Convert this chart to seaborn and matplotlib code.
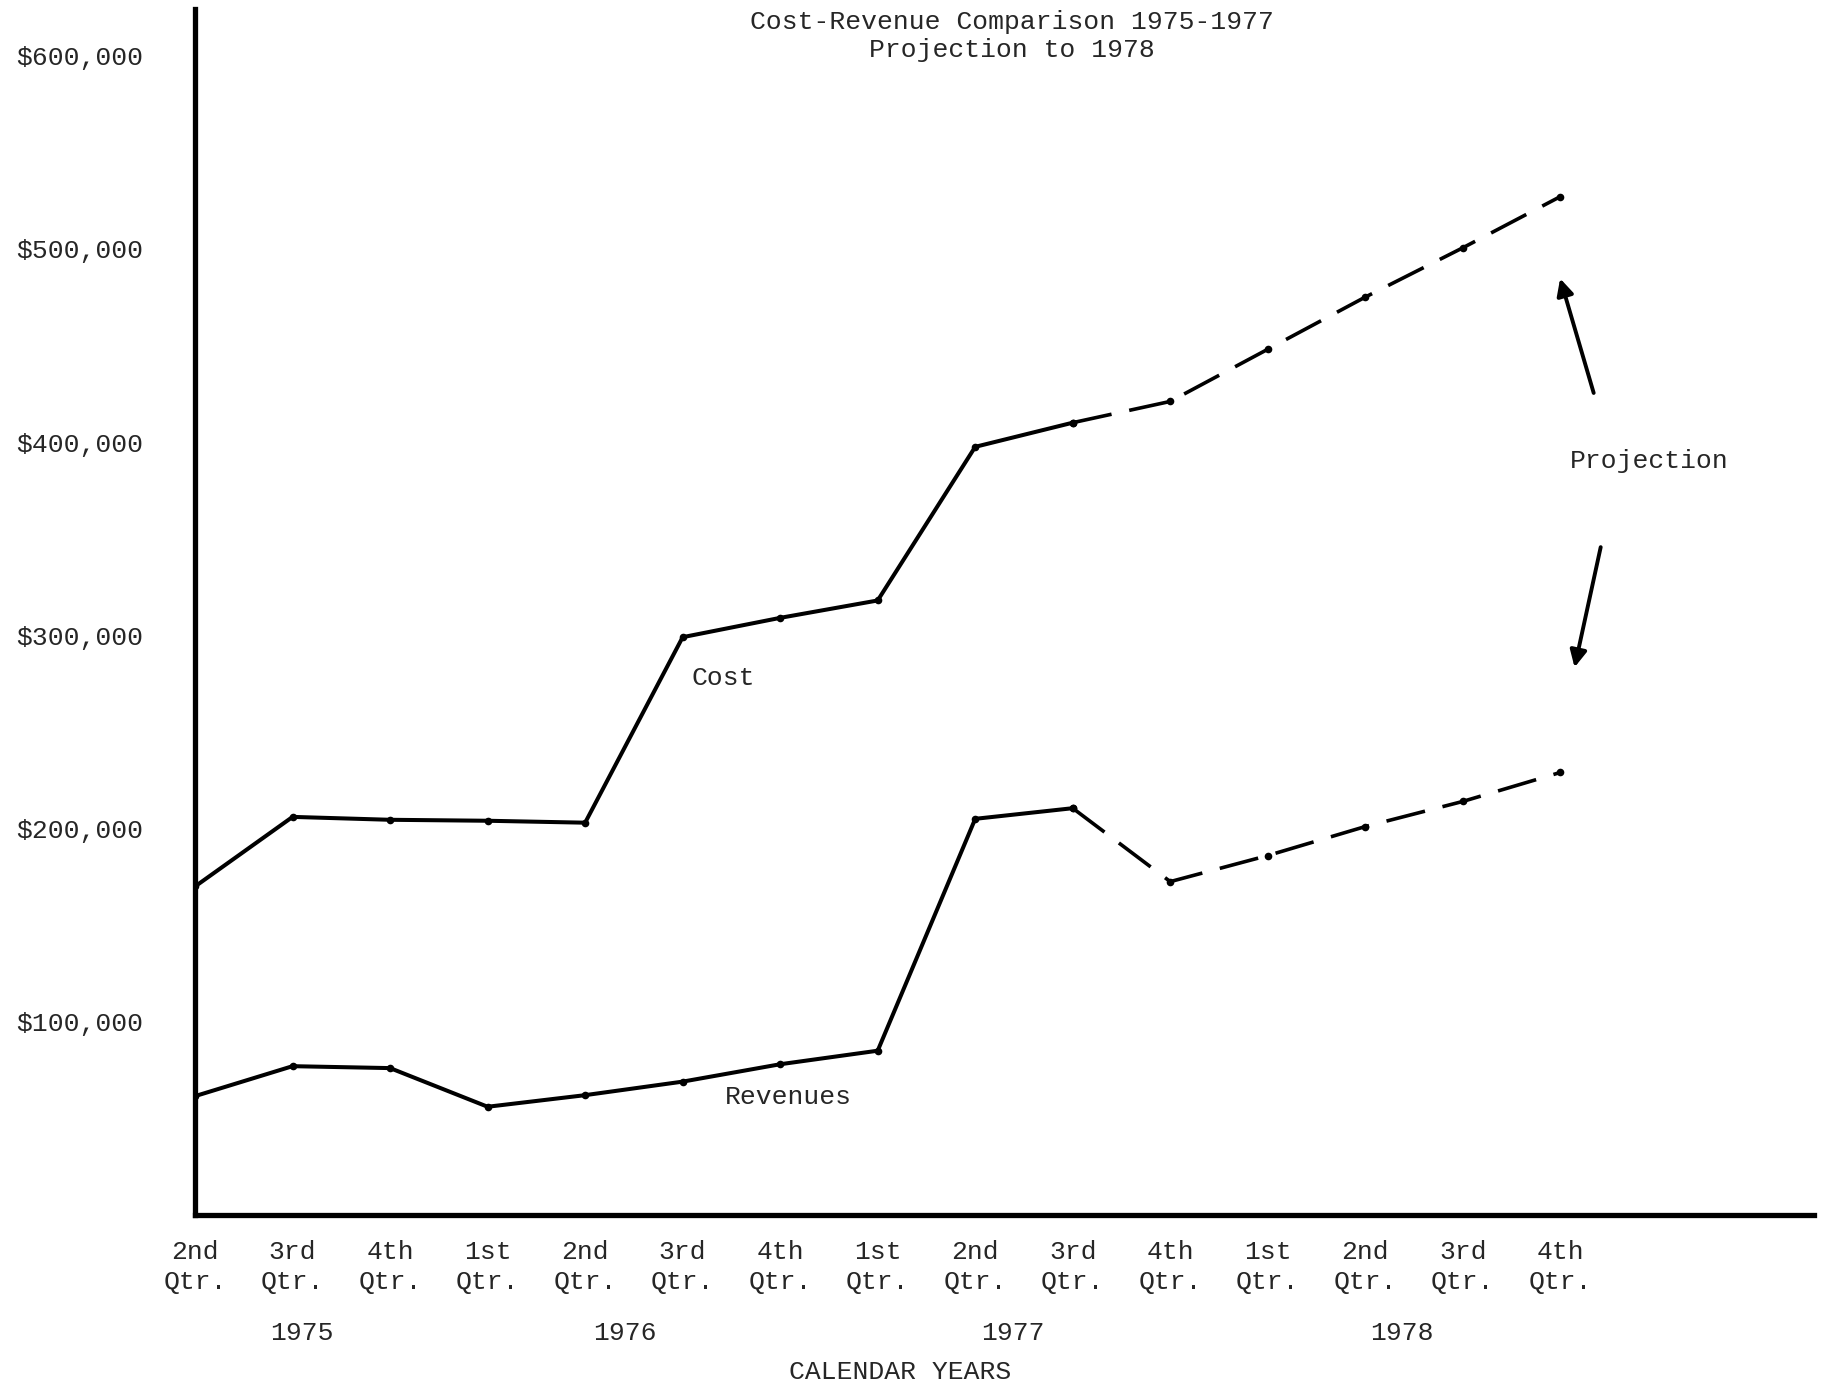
"""
Cost-revenue comparison 1975-1977 with projection to 1978 (typewriter-style line chart).
"""

import matplotlib
matplotlib.use("Agg")
import matplotlib.pyplot as plt
import matplotlib.transforms as mtransforms
import pandas as pd
import seaborn as sns

quarters = ["2nd\nQtr.", "3rd\nQtr.", "4th\nQtr.", "1st\nQtr.", "2nd\nQtr.", "3rd\nQtr.",
            "4th\nQtr.", "1st\nQtr.", "2nd\nQtr.", "3rd\nQtr.", "4th\nQtr.", "1st\nQtr.",
            "2nd\nQtr.", "3rd\nQtr.", "4th\nQtr."]
cost = [170000, 206000, 204500, 204000, 203000, 299000, 309000, 318000,
        397500, 410000, 421000, 448000, 475000, 500500, 527000]
revenue = [61500, 77000, 76000, 56000, 62000, 69000, 78000, 85000,
           205000, 210500, 172500, 186000, 201000, 214000, 229000]
actual_end = 9          # index of 3rd Qtr 1977, last actual value
years = ["1975", "1976", "1977", "1978"]
year_pos = [1.1, 4.41, 8.39, 12.38]
ytick_vals = [100000, 200000, 300000, 400000, 500000, 600000]
ytick_labels = ["$100,000", "$200,000", "$300,000", "$400,000", "$500,000", "$600,000"]

sns.set_theme(style="white")
plt.rcParams["font.family"] = ["Liberation Mono", "DejaVu Sans Mono"]

df = pd.DataFrame({"q": range(len(quarters)), "Cost": cost, "Revenues": revenue})
act = df[df["q"] <= actual_end]
proj = df[df["q"] >= actual_end]

fig = plt.figure(figsize=(18.23, 13.86), dpi=100)
ax = fig.add_axes([0.107, 0.1234, 0.888, 0.87])

for col in ["Cost", "Revenues"]:
    sns.lineplot(data=act, x="q", y=col, ax=ax, color="black", lw=2.9,
                 marker="o", markersize=5.5, markeredgewidth=0)
    sns.lineplot(data=proj, x="q", y=col, ax=ax, color="black", lw=2.6,
                 linestyle=(0, (11, 5)), marker="o", markersize=5.5, markeredgewidth=0)

ax.set_xlim(0, 16.6)
ax.set_ylim(0, 624000)
ax.set_xticks(range(len(quarters)))
ax.set_xticklabels(quarters, fontsize=19, linespacing=1.3)
ax.set_yticks(ytick_vals)
ax.set_yticklabels(ytick_labels, fontsize=19)
ax.tick_params(axis="x", direction="out", length=7, width=2, pad=11, color="black")
ax.tick_params(axis="y", direction="out", length=7, width=2, pad=30, color="black")
ax.set_xlabel(""); ax.set_ylabel("")
for s in ["top", "right"]:
    ax.spines[s].set_visible(False)
for s in ["left", "bottom"]:
    ax.spines[s].set_linewidth(3.8)
    ax.spines[s].set_color("black")

# year labels under the quarter ticks
trans = mtransforms.blended_transform_factory(ax.transData, ax.transAxes)
for yr, xp in zip(years, year_pos):
    ax.text(xp, -0.098, yr, transform=trans, ha="center", va="center", fontsize=19)
ax.text(7.23, -0.13, "CALENDAR YEARS", transform=trans, ha="center", va="center", fontsize=19)

# in-plot labels and arrows
ax.text(5.42, 278000, "Cost", ha="center", va="center", fontsize=19)
ax.text(6.08, 61000, "Revenues", ha="center", va="center", fontsize=19)
ax.text(14.91, 390000, "Projection", ha="center", va="center", fontsize=19)
arrow = dict(arrowstyle="-|>", color="black", lw=2.8, mutation_scale=25)
ax.annotate("", xy=(13.99, 486000), xytext=(14.35, 424000), arrowprops=arrow)
ax.annotate("", xy=(14.14, 282000), xytext=(14.42, 347000), arrowprops=arrow)

fig.text(0.555, 0.993, "Cost-Revenue Comparison 1975-1977\nProjection to 1978",
         ha="center", va="top", fontsize=19, linespacing=1.2)

fig.savefig("out.png", dpi=100)
